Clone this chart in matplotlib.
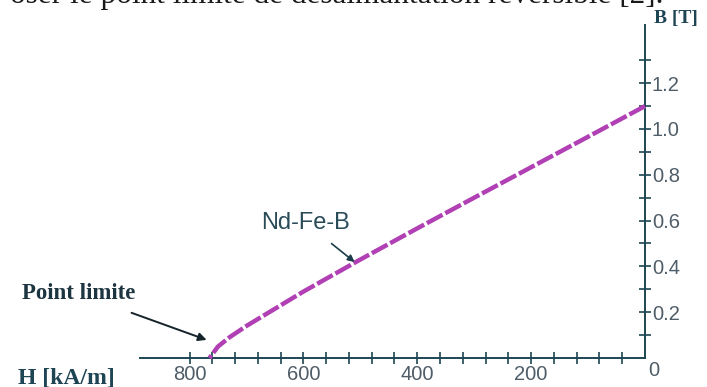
import matplotlib
matplotlib.use("Agg")
import matplotlib.pyplot as plt

# Data
H = [0, 100, 200, 300, 400, 500, 600, 650, 700, 730, 750, 765]
B = [1.10, 0.966, 0.833, 0.70, 0.566, 0.43, 0.29, 0.215, 0.14, 0.09, 0.05, 0.0]
xticks_minor = list(range(40, 801, 40))
xtick_labels_at = [800, 600, 400, 200]
yticks_minor = [round(0.1 * i, 1) for i in range(1, 14)]
ytick_labels_at = [0.2, 0.4, 0.6, 0.8, 1.0, 1.2]

axis_col = "#1d4553"
label_col = "#4f5d68"
curve_col = "#b040b4"

fig = plt.figure(figsize=(7.07, 3.87), dpi=100)
ax = fig.add_axes([140/707, 1 - 358/387, (645-140)/707, (358-25)/387])
ax.set_xlim(887, 0)
ax.set_ylim(0, 1.454)

for s in ["top", "left"]:
    ax.spines[s].set_visible(False)
for s in ["bottom", "right"]:
    ax.spines[s].set_color(axis_col)
    ax.spines[s].set_linewidth(1.4)

ax.plot(H, B, color=curve_col, lw=3.2, dashes=(4, 0.7), solid_capstyle="butt",
        zorder=3, clip_on=False)

ax.set_xticks(xticks_minor)
ax.set_xticklabels([str(v) if v in xtick_labels_at else "" for v in xticks_minor])
ax.set_yticks(yticks_minor)
ax.set_yticklabels([f"{v:.1f}" if v in ytick_labels_at else "" for v in yticks_minor])
ax.yaxis.tick_right()
ax.tick_params(axis="both", direction="inout", length=8, width=1.2, color=axis_col,
               labelcolor=label_col, labelsize=14.5)
ax.tick_params(axis="x", pad=1)
ax.tick_params(axis="y", pad=1)
for lab in ax.get_xticklabels() + ax.get_yticklabels():
    lab.set_family("Liberation Sans")

# zero label at the corner
ax.text(-6, -0.015, "0", transform=ax.transData, ha="left", va="top", fontsize=14.5,
        color=label_col, family="Liberation Sans")

# Axis titles
fig.text(654/707, 1 - 18/387, "B [T]", ha="left", va="center", fontsize=14,
         fontweight="bold", family="Liberation Serif", color=axis_col)
fig.text(18/707, 1 - 378/387, "H [kA/m]", ha="left", va="center", fontsize=17,
         fontweight="bold", family="Liberation Serif", color=axis_col)

# Annotations
ax.annotate("Nd-Fe-B", xy=(510, 0.419), xytext=(596, 0.59), ha="center", va="center",
            fontsize=17, family="Liberation Sans", color="#2a4b58",
            arrowprops=dict(arrowstyle="-|>", color="#1d3d4a", lw=1.2,
                            mutation_scale=10, shrinkA=8, shrinkB=0))
ax.annotate("Point limite", xy=(770, 0.079), xytext=(994, 0.28), ha="center", va="center",
            fontsize=16.5, fontweight="bold", family="Liberation Serif", color="#1d3540",
            annotation_clip=False,
            arrowprops=dict(arrowstyle="-|>", color="#15232a", lw=1.4,
                            mutation_scale=12, shrinkA=12, shrinkB=0))

# cropped caption text at very top
fig.text(663/707, 1 - 3/387, "oser le point limite de désaimantation réversible [2].",
         ha="right", va="baseline", fontsize=22.5, family="Liberation Serif", color="#1a1a1a")

fig.savefig("out.png", dpi=100)
